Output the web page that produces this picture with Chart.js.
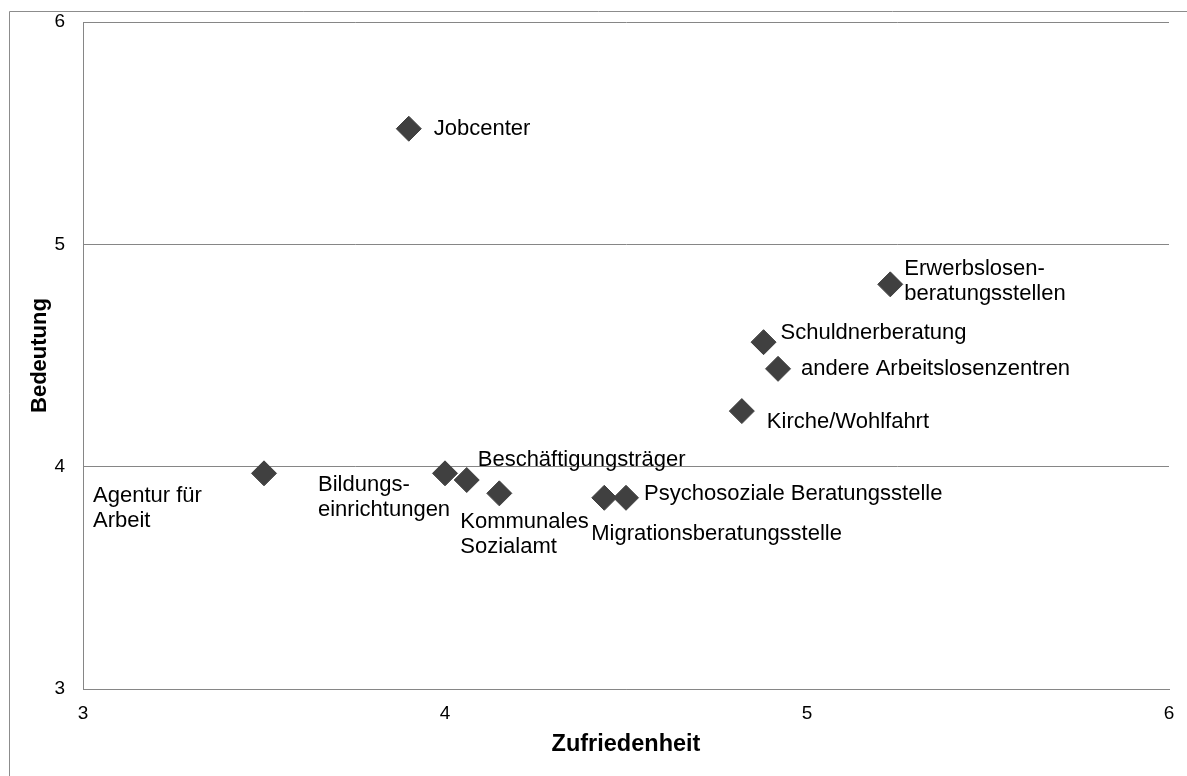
<!DOCTYPE html>
<html>
<head>
<meta charset="utf-8">
<script src="https://cdn.jsdelivr.net/npm/chart.js@4"></script>
<style>
  body { margin: 0; background: #fff; }
</style>
</head>
<body>
<canvas id="chart" width="1187" height="776"></canvas>
<script>
// Zufriedenheit (x) vs Bedeutung (y) per Einrichtung
const names = [
    ['Jobcenter'],
    ['Erwerbslosen-', 'beratungsstellen'],
    ['Schuldnerberatung'],
    ['andere Arbeitslosenzentren'],
    ['Kirche/Wohlfahrt'],
    ['Agentur für', 'Arbeit'],
    ['Bildungs-', 'einrichtungen'],
    ['Beschäftigungsträger'],
    ['Kommunales', 'Sozialamt'],
    ['Migrationsberatungsstelle'],
    ['Psychosoziale Beratungsstelle']
];
const zufriedenheit = [3.9, 5.23, 4.88, 4.92, 4.82, 3.5, 4.0, 4.06, 4.15, 4.44, 4.5];
const bedeutung = [5.52, 4.82, 4.56, 4.44, 4.25, 3.97, 3.97, 3.94, 3.88, 3.86, 3.86];
const axisTicks = [3, 4, 5, 6];

// where each label sits relative to its marker (px)
const labelOffsets = [
    [25, 0], [14, -15], [17, -9], [23, 0], [25, 11], [-171, 23],
    [-127, 12], [11, -20], [-39, 29], [-13, 36], [18, -4]
];

const pointColor = '#404040';
const lineColor = '#868686';

const frame = {
    id: 'frame',
    beforeDraw(chart) {
        const ctx = chart.ctx;
        ctx.save();
        ctx.strokeStyle = '#8c8c8c';
        ctx.lineWidth = 1;
        ctx.beginPath();
        ctx.moveTo(9.5, chart.height);
        ctx.lineTo(9.5, 11.5);
        ctx.lineTo(chart.width, 11.5);
        ctx.stroke();
        ctx.restore();
    }
};

const pointLabels = {
    id: 'pointLabels',
    afterDatasetsDraw(chart) {
        const ctx = chart.ctx;
        const meta = chart.getDatasetMeta(0);
        ctx.save();
        ctx.fillStyle = '#000';
        ctx.font = '22px "Liberation Sans", Arial, sans-serif';
        ctx.textAlign = 'left';
        ctx.textBaseline = 'middle';
        meta.data.forEach(function(pt, i) {
            const off = labelOffsets[i];
            names[i].forEach(function(line, j) {
                ctx.fillText(line, pt.x + off[0], pt.y + off[1] + j * 25);
            });
        });
        ctx.restore();
    }
};

const points = zufriedenheit.map(function(x, i) {
    return {x: x, y: bedeutung[i]};
});

const tickFont = {family: '"Liberation Sans", Arial, sans-serif', size: 19};
const xTitleFont = {family: '"Liberation Sans", Arial, sans-serif', size: 23.5, weight: 'bold', lineHeight: 1};
const yTitleFont = {family: '"Liberation Sans", Arial, sans-serif', size: 22, weight: 'bold', lineHeight: 1};

new Chart(document.getElementById('chart').getContext('2d'), {
    type: 'scatter',
    data: {
        datasets: [{
            data: points,
            pointStyle: 'rectRot',
            pointRadius: 12.5,
            pointHoverRadius: 12.5,
            backgroundColor: pointColor,
            borderColor: pointColor,
            borderWidth: 1
        }]
    },
    options: {
        responsive: false,
        animation: false,
        devicePixelRatio: 1,
        layout: {padding: {left: 0, top: 22, right: 18, bottom: 0}},
        plugins: {
            legend: {display: false},
            tooltip: {enabled: false}
        },
        scales: {
            x: {
                min: 3,
                max: 6,
                afterBuildTicks: function(scale) {
                    scale.ticks = axisTicks.map(function(v) { return {value: v}; });
                },
                afterFit: function(scale) {
                    scale.height = 87;
                    scale.paddingLeft = 0;
                    scale.paddingRight = 0;
                },
                grid: {drawOnChartArea: false, drawTicks: false},
                border: {display: true, color: lineColor, width: 1},
                ticks: {color: '#000', font: tickFont, padding: 13},
                title: {display: true, text: 'Zufriedenheit', color: '#000', font: xTitleFont, padding: {top: 0, bottom: 20}}
            },
            y: {
                min: 3,
                max: 6,
                afterBuildTicks: function(scale) {
                    scale.ticks = axisTicks.map(function(v) { return {value: v}; });
                },
                afterFit: function(scale) {
                    scale.width = 83;
                    scale.paddingTop = 0;
                    scale.paddingBottom = 0;
                },
                grid: {color: lineColor, lineWidth: 1, drawTicks: false},
                border: {display: true, color: lineColor, width: 1},
                ticks: {color: '#000', font: tickFont, padding: 18},
                title: {display: true, text: 'Bedeutung', color: '#000', font: yTitleFont, padding: {top: 29, bottom: 0}}
            }
        }
    },
    plugins: [frame, pointLabels]
});
</script>
</body>
</html>
